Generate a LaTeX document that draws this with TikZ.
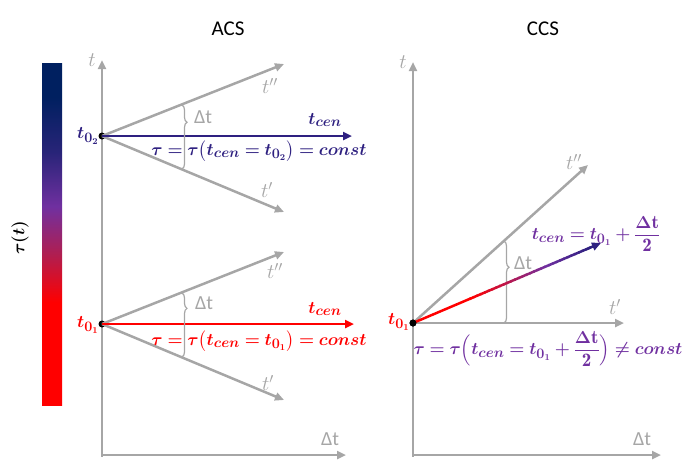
\documentclass[tikz,border=0pt]{standalone}
\usepackage{fontspec}
\setsansfont{Carlito}
\usepackage{amsmath,bm}
\usetikzlibrary{arrows.meta,decorations.pathreplacing,calc}
\definecolor{axgray}{RGB}{166,166,166}
\definecolor{dblue}{RGB}{46,32,128}
\definecolor{purp}{RGB}{112,48,160}
\definecolor{navy}{RGB}{0,32,96}
\definecolor{crim}{RGB}{176,30,80}
\definecolor{midnavy}{RGB}{40,36,120}
\pgfdeclareverticalshading{taubar}{100bp}{color(0bp)=(red); color(40bp)=(red); color(47bp)=(crim); color(54bp)=(purp); color(62bp)=(midnavy); color(70bp)=(navy); color(100bp)=(navy)}
\tikzset{
  ax/.style={axgray, line width=2.5pt, -{Triangle[length=9pt,width=8pt]}},
  colarrow/.style={line width=2.5pt, -{Triangle[length=9pt,width=8pt]}},
  dot/.style={circle, fill=black, inner sep=0pt, minimum size=7pt},
  glabel/.style={text=axgray, font=\fontsize{22}{24}\selectfont, inner sep=1pt},
  dtlabel/.style={text=axgray, font=\sffamily\fontsize{20}{22}\selectfont, inner sep=1pt},
  title/.style={font=\sffamily\fontsize{21}{24}\selectfont},
  formula/.style={font=\fontsize{19}{22}\selectfont, inner sep=0pt},
  bracestyle/.style={axgray, line width=1.2pt, decorate, decoration={brace, amplitude=5pt}}
}
\begin{document}
\begin{tikzpicture}[x=1pt,y=-1pt]
\useasboundingbox (0,0) rectangle (683,459);
% titles
\node[title] (tA) at (228,29) {ACS};
\node[title] (tC) at (543,29) {CCS};
% colour bar
\shade[shading=taubar] (42,63) rectangle (62,405);
\node[rotate=90, font=\fontsize{19}{22}\selectfont] (taut) at (20,238) {$\bm{\tau(t)}$};

% ---------- ACS ----------
\coordinate (oA) at (102,455);
\coordinate (tAtop) at (102,60);
\coordinate (dAend) at (346,455);
\draw[ax] (oA) -- (tAtop);
\draw[axgray, line width=2.5pt] (oA) -- (102,457);
\draw[ax] (oA) -- (dAend);
\node[glabel] (tAl) at (92,60) {$t$};
\node[dtlabel] (dAl) at (330,439) {Δt};

% upper (t02)
\node[dot] (p2) at (102,136) {};
\coordinate (u2) at (284,64);
\coordinate (l2) at (284,212);
\coordinate (c2) at (352,136);
\draw[ax] (p2.center) -- (u2);
\draw[ax] (p2.center) -- (l2);
\draw[colarrow, dblue] (p2.center) -- (c2);
\node[glabel] (u2l) at (270,86) {$t''$};
\node[glabel] (l2l) at (267,190) {$t'$};
\node[formula, text=dblue] (c2l) at (325,120) {$\bm{t_{cen}}$};
\node[formula, text=dblue, anchor=east] (p2l) at (99,136) {$\bm{t_{0_2}}$};
\coordinate (b2a) at (182,105);
\coordinate (b2b) at (182,169);
\draw[bracestyle, decoration={aspect=0.27}] (b2a) -- (b2b);
\node[dtlabel] (b2l) at (203,117) {Δt};
\node[formula, text=dblue] (f2) at (259,151) {$\bm{\tau = \tau\big(t_{cen} = t_{0_2}\big) = const}$};

% lower (t01)
\node[dot] (p1) at (102,324) {};
\coordinate (u1) at (284,252);
\coordinate (l1) at (284,400);
\coordinate (c1) at (354,324);
\draw[ax] (p1.center) -- (u1);
\draw[ax] (p1.center) -- (l1);
\draw[colarrow, red] (p1.center) -- (c1);
\node[glabel] (u1l) at (275,271) {$t''$};
\node[glabel] (l1l) at (268,383) {$t'$};
\node[formula, text=red] (c1l) at (325,309) {$\bm{t_{cen}}$};
\node[formula, text=red, anchor=east] (p1l) at (99,325) {$\bm{t_{0_1}}$};
\coordinate (b1a) at (182,293);
\coordinate (b1b) at (182,357);
\draw[bracestyle, decoration={aspect=0.24}] (b1a) -- (b1b);
\node[dtlabel] (b1l) at (204,303) {Δt};
\node[formula, text=red] (f1) at (259,341) {$\bm{\tau = \tau\big(t_{cen} = t_{0_1}\big) = const}$};

% ---------- CCS ----------
\coordinate (oC) at (413,455);
\coordinate (tCtop) at (413,62);
\coordinate (dCend) at (661,455);
\draw[ax] (oC) -- (tCtop);
\draw[axgray, line width=2.5pt] (oC) -- (413,457);
\draw[ax] (oC) -- (dCend);
\node[glabel] (tCl) at (403,62) {$t$};
\node[dtlabel] (dCl) at (642,439) {Δt};

\node[dot] (p3) at (413,323) {};
\coordinate (u3) at (588,165);
\coordinate (h3) at (624,323);
\coordinate (e3) at (601,243);
\draw[ax] (p3.center) -- (u3);
\draw[ax] (p3.center) -- (h3);
\node[glabel] (u3l) at (574,162) {$t''$};
\node[glabel] (h3l) at (615,307) {$t'$};
\coordinate (b3a) at (504,241);
\coordinate (b3b) at (504,323);
\draw[bracestyle, decoration={aspect=0.32}] (b3a) -- (b3b);
\node[dtlabel] (b3l) at (523,263) {Δt};
% gradient arrow
\draw[red, line width=2.5pt] (p3.center) -- ($(p3.center)!0.31!(e3)$);
\foreach \i in {0,...,19} {
  \pgfmathtruncatemacro\pc{5*\i}
  \draw[purp!\pc!red, line width=2.5pt] ($(p3.center)!{0.3+0.02*\i}!(e3)$) -- ($(p3.center)!{0.3+0.02*\i+0.025}!(e3)$);
}
\foreach \i in {0,...,11} {
  \pgfmathtruncatemacro\pc{9*\i}
  \draw[dblue!\pc!purp, line width=2.5pt] ($(p3.center)!{0.7+0.02*\i}!(e3)$) -- ($(p3.center)!{0.7+0.02*\i+0.025}!(e3)$);
}
\draw[colarrow, dblue] ($(p3.center)!0.93!(e3)$) -- (e3);
\node[dot] (p3b) at (p3) {};
\node[formula, text=red, anchor=east] (p3l) at (410,322) {$\bm{t_{0_1}}$};
\node[formula, text=purp] (c3l) at (596,234) {$\bm{t_{cen} = t_{0_1} +} \dfrac{\bm{\Delta}\mathbf{t}}{\mathbf{2}}$};
\node[formula, text=purp] (f3) at (548,349) {$\bm{\tau = \tau\Big(t_{cen} = t_{0_1} +} \dfrac{\bm{\Delta}\mathbf{t}}{\mathbf{2}}\bm{\Big) \neq const}$};
\end{tikzpicture}
\end{document}
